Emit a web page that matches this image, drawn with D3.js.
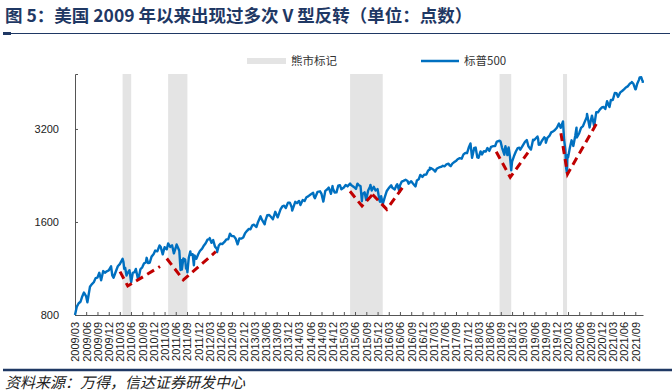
<!DOCTYPE html>
<html>
<head>
<meta charset="utf-8">
<script src="https://cdn.jsdelivr.net/npm/d3@7"></script>
<style>
  body { margin: 0; background: #fff; }
  svg { display: block; }
  .axis text { font-family: "Liberation Sans", Arial, sans-serif; fill: #222; }
  .axis path, .axis line { stroke: #555; }
</style>
</head>
<body>
<div id="chart"></div>
<script>
// S&P 500 closes (dates are trading days)
const spx = [
  ["2009-03-31", 798], ["2009-04-15", 852], ["2009-04-30", 873], ["2009-05-15", 883], ["2009-05-29", 919],
  ["2009-06-12", 946], ["2009-06-30", 919], ["2009-07-10", 880], ["2009-07-31", 987], ["2009-08-14", 1005],
  ["2009-08-31", 1021], ["2009-09-15", 1053], ["2009-09-30", 1057], ["2009-10-15", 1096], ["2009-10-30", 1036],
  ["2009-11-16", 1110], ["2009-11-30", 1096], ["2009-12-15", 1108], ["2009-12-31", 1115],
  ["2010-01-19", 1150], ["2010-01-29", 1074], ["2010-02-08", 1056], ["2010-02-26", 1104], ["2010-03-15", 1150],
  ["2010-03-31", 1169], ["2010-04-23", 1217], ["2010-04-30", 1187], ["2010-05-06", 1128], ["2010-05-14", 1136],
  ["2010-05-25", 1074], ["2010-05-31", 1089], ["2010-06-18", 1117], ["2010-06-30", 1031], ["2010-07-02", 1023],
  ["2010-07-15", 1096], ["2010-07-30", 1102], ["2010-08-09", 1128], ["2010-08-26", 1047], ["2010-08-31", 1049],
  ["2010-09-15", 1125], ["2010-09-30", 1141], ["2010-10-15", 1176], ["2010-10-29", 1183], ["2010-11-05", 1225],
  ["2010-11-16", 1178], ["2010-11-30", 1181], ["2010-12-15", 1236], ["2010-12-31", 1258],
  ["2011-01-14", 1293], ["2011-01-31", 1286], ["2011-02-18", 1343], ["2011-02-28", 1327], ["2011-03-16", 1257],
  ["2011-03-31", 1326], ["2011-04-18", 1305], ["2011-04-29", 1364], ["2011-05-16", 1329], ["2011-05-31", 1345],
  ["2011-06-15", 1266], ["2011-06-30", 1321], ["2011-07-07", 1353], ["2011-07-29", 1292], ["2011-08-08", 1119],
  ["2011-08-15", 1204], ["2011-08-19", 1123], ["2011-08-31", 1219], ["2011-09-15", 1209], ["2011-09-22", 1130],
  ["2011-09-30", 1131], ["2011-10-03", 1099], ["2011-10-14", 1225], ["2011-10-27", 1285], ["2011-10-31", 1253],
  ["2011-11-15", 1258], ["2011-11-25", 1159], ["2011-11-30", 1247], ["2011-12-15", 1216], ["2011-12-30", 1258],
  ["2012-01-13", 1289], ["2012-01-31", 1312], ["2012-02-15", 1343], ["2012-02-29", 1366], ["2012-03-15", 1403],
  ["2012-03-30", 1408], ["2012-04-02", 1419], ["2012-04-16", 1370], ["2012-04-30", 1398], ["2012-05-15", 1331],
  ["2012-05-31", 1310], ["2012-06-01", 1278], ["2012-06-15", 1343], ["2012-06-29", 1362], ["2012-07-13", 1357],
  ["2012-07-31", 1379], ["2012-08-15", 1405], ["2012-08-31", 1407], ["2012-09-14", 1466], ["2012-09-28", 1441],
  ["2012-10-15", 1440], ["2012-10-31", 1412], ["2012-11-15", 1355], ["2012-11-30", 1416], ["2012-12-14", 1413],
  ["2012-12-31", 1426],
  ["2013-01-15", 1472], ["2013-01-31", 1498], ["2013-02-15", 1520], ["2013-02-28", 1515], ["2013-03-15", 1561],
  ["2013-03-28", 1569], ["2013-04-18", 1541], ["2013-04-30", 1598], ["2013-05-21", 1669], ["2013-05-31", 1631],
  ["2013-06-24", 1573], ["2013-06-28", 1606], ["2013-07-15", 1683], ["2013-07-31", 1686], ["2013-08-15", 1661],
  ["2013-08-30", 1633], ["2013-09-18", 1726], ["2013-09-30", 1682], ["2013-10-08", 1656], ["2013-10-31", 1757],
  ["2013-11-15", 1798], ["2013-11-29", 1806], ["2013-12-13", 1775], ["2013-12-31", 1848],
  ["2014-01-15", 1848], ["2014-01-31", 1783], ["2014-02-03", 1742], ["2014-02-28", 1859], ["2014-03-14", 1841],
  ["2014-03-31", 1872], ["2014-04-11", 1816], ["2014-04-30", 1884], ["2014-05-15", 1870], ["2014-05-30", 1924],
  ["2014-06-13", 1937], ["2014-06-30", 1960], ["2014-07-24", 1988], ["2014-07-31", 1931], ["2014-08-07", 1910],
  ["2014-08-29", 2003], ["2014-09-18", 2011], ["2014-09-30", 1972], ["2014-10-15", 1862], ["2014-10-31", 2018],
  ["2014-11-14", 2039], ["2014-11-28", 2068], ["2014-12-16", 1973], ["2014-12-29", 2091], ["2014-12-31", 2059],
  ["2015-01-15", 1993], ["2015-01-30", 1995], ["2015-02-13", 2097], ["2015-02-27", 2105], ["2015-03-11", 2041],
  ["2015-03-31", 2068], ["2015-04-15", 2107], ["2015-04-30", 2086], ["2015-05-21", 2131], ["2015-05-29", 2107],
  ["2015-06-15", 2085], ["2015-06-30", 2063], ["2015-07-08", 2047], ["2015-07-20", 2129], ["2015-07-31", 2104],
  ["2015-08-14", 2092], ["2015-08-25", 1868], ["2015-08-31", 1972], ["2015-09-16", 1996], ["2015-09-29", 1884],
  ["2015-10-15", 2023], ["2015-10-30", 2079], ["2015-11-03", 2109], ["2015-11-13", 2023], ["2015-11-30", 2080],
  ["2015-12-14", 2022], ["2015-12-31", 2044],
  ["2016-01-15", 1880], ["2016-01-20", 1859], ["2016-01-29", 1940], ["2016-02-11", 1829], ["2016-02-29", 1932],
  ["2016-03-15", 2016], ["2016-03-31", 2060], ["2016-04-20", 2102], ["2016-04-29", 2065], ["2016-05-19", 2040],
  ["2016-05-31", 2097], ["2016-06-08", 2119], ["2016-06-27", 2001], ["2016-06-30", 2099], ["2016-07-15", 2162],
  ["2016-07-29", 2174], ["2016-08-15", 2191], ["2016-08-31", 2171], ["2016-09-09", 2128], ["2016-09-30", 2168],
  ["2016-10-14", 2133], ["2016-11-04", 2085], ["2016-11-15", 2180], ["2016-11-30", 2199], ["2016-12-13", 2272],
  ["2016-12-30", 2239],
  ["2017-01-13", 2275], ["2017-01-31", 2279], ["2017-02-15", 2349], ["2017-02-28", 2364], ["2017-03-01", 2396],
  ["2017-03-15", 2385], ["2017-03-31", 2363], ["2017-04-13", 2329], ["2017-04-28", 2384], ["2017-05-15", 2402],
  ["2017-05-31", 2412], ["2017-06-15", 2432], ["2017-06-30", 2423], ["2017-07-14", 2459], ["2017-07-31", 2470],
  ["2017-08-10", 2438], ["2017-08-18", 2426], ["2017-08-31", 2472], ["2017-09-15", 2500], ["2017-09-29", 2519],
  ["2017-10-13", 2553], ["2017-10-31", 2575], ["2017-11-15", 2564], ["2017-11-30", 2648], ["2017-12-15", 2676],
  ["2017-12-29", 2674],
  ["2018-01-12", 2786], ["2018-01-26", 2873], ["2018-02-08", 2581], ["2018-02-26", 2780], ["2018-03-09", 2786],
  ["2018-03-23", 2588], ["2018-04-02", 2582], ["2018-04-18", 2708], ["2018-04-30", 2648], ["2018-05-15", 2711],
  ["2018-05-31", 2705], ["2018-06-13", 2776], ["2018-06-29", 2718], ["2018-07-13", 2801], ["2018-07-31", 2816],
  ["2018-08-15", 2818], ["2018-08-29", 2914], ["2018-09-20", 2931], ["2018-09-28", 2914], ["2018-10-10", 2786],
  ["2018-10-29", 2641], ["2018-10-31", 2712], ["2018-11-07", 2814], ["2018-11-23", 2633], ["2018-11-30", 2760],
  ["2018-12-03", 2790], ["2018-12-14", 2600], ["2018-12-24", 2351], ["2018-12-31", 2507],
  ["2019-01-15", 2610], ["2019-01-31", 2704], ["2019-02-15", 2776], ["2019-02-28", 2784], ["2019-03-08", 2743],
  ["2019-03-29", 2834], ["2019-04-15", 2905], ["2019-04-30", 2946], ["2019-05-13", 2812], ["2019-05-31", 2752],
  ["2019-06-03", 2744], ["2019-06-20", 2954], ["2019-06-28", 2942], ["2019-07-26", 3026], ["2019-07-31", 2980],
  ["2019-08-05", 2845], ["2019-08-15", 2848], ["2019-08-30", 2926], ["2019-09-19", 3006], ["2019-09-30", 2977],
  ["2019-10-02", 2887], ["2019-10-15", 2996], ["2019-10-31", 3038], ["2019-11-15", 3120], ["2019-11-29", 3141],
  ["2019-12-13", 3169], ["2019-12-31", 3231],
  ["2020-01-17", 3330], ["2020-01-31", 3226], ["2020-02-19", 3386], ["2020-02-28", 2954], ["2020-03-09", 2747],
  ["2020-03-16", 2386], ["2020-03-23", 2300], ["2020-03-26", 2630], ["2020-03-31", 2585], ["2020-04-15", 2783],
  ["2020-04-29", 2940], ["2020-05-13", 2820], ["2020-05-29", 3044], ["2020-06-08", 3232], ["2020-06-11", 3002],
  ["2020-06-30", 3100], ["2020-07-15", 3227], ["2020-07-31", 3271], ["2020-08-14", 3373], ["2020-08-31", 3500],
  ["2020-09-02", 3581], ["2020-09-23", 3237], ["2020-09-30", 3363], ["2020-10-12", 3535], ["2020-10-30", 3270],
  ["2020-11-16", 3627], ["2020-11-30", 3622], ["2020-12-15", 3695], ["2020-12-31", 3756],
  ["2021-01-15", 3768], ["2021-01-29", 3714], ["2021-02-12", 3934], ["2021-02-26", 3811], ["2021-03-04", 3768],
  ["2021-03-15", 3969], ["2021-03-31", 3973], ["2021-04-16", 4185], ["2021-04-30", 4181], ["2021-05-12", 4063],
  ["2021-05-31", 4204], ["2021-06-15", 4247], ["2021-06-30", 4298], ["2021-07-15", 4360], ["2021-07-30", 4395],
  ["2021-08-16", 4479], ["2021-08-31", 4523], ["2021-09-02", 4537], ["2021-09-15", 4481], ["2021-09-30", 4308],
  ["2021-10-04", 4300], ["2021-10-15", 4471], ["2021-10-29", 4605], ["2021-11-05", 4697], ["2021-11-18", 4704],
  ["2021-11-26", 4595], ["2021-11-30", 4567], ["2021-12-01", 4513]
];

// bear market shading (start, end)
const bearPeriods = [
  ["2010-04-23", "2010-07-02"],
  ["2011-04-29", "2011-10-03"],
  ["2015-05-21", "2016-02-11"],
  ["2018-09-20", "2018-12-24"],
  ["2020-02-19", "2020-03-23"]
];

// red dashed V annotations, each a list of [date, level]
const vMarks = [
  [["2010-04-02", 1105], ["2010-06-04", 993], ["2011-02-22", 1148]],
  [["2011-04-18", 1219], ["2011-08-31", 1039], ["2012-05-21", 1282]],
  [["2015-05-20", 2012], ["2015-08-26", 1802], ["2015-11-20", 1964]],
  [["2015-11-20", 1964], ["2016-03-15", 1758], ["2016-07-28", 2084]],
  [["2018-08-24", 2702], ["2018-12-16", 2233], ["2019-05-09", 2682]],
  [["2020-02-02", 3100], ["2020-03-27", 2288], ["2020-11-16", 3321]]
];

const yTicks = [800, 1600, 3200];
const yTop = 4820;
const xStart = "2009-03-31", xEnd = "2021-12-02";
const firstLabel = "2009-03", labelCount = 51;

const title = "图 5：美国 2009 年以来出现过多次 V 型反转（单位：点数）";
const source = "资料来源：万得，信达证券研发中心";
const legendItems = ["熊市标记", "标普500"];

const W = 672, H = 392;
const plot = {left: 75, right: 643, top: 74, bottom: 315};
const parse = d3.timeParse("%Y-%m-%d");
const navy = "#1F3864", blue = "#0070C0", red = "#C00000", band = "#E4E4E4";

const svg = d3.select("#chart").append("svg")
  .attr("width", W).attr("height", H);

svg.append("rect").attr("width", W).attr("height", H).attr("fill", "#fff");

// title + rules
svg.append("text")
  .attr("x", 5).attr("y", 22)
  .attr("font-family", "'Noto Sans CJK SC', sans-serif")
  .attr("font-weight", "bold").attr("font-size", 17.5)
  .attr("fill", navy)
  .text(title);
svg.append("line").attr("x1", 3).attr("x2", 670).attr("y1", 33.5).attr("y2", 33.5)
  .attr("stroke", navy).attr("stroke-width", 1.2);
svg.append("rect").attr("x", 3).attr("y", 32).attr("width", 8).attr("height", 3).attr("fill", navy);
svg.append("line").attr("x1", 3).attr("x2", 672).attr("y1", 370).attr("y2", 370)
  .attr("stroke", navy).attr("stroke-width", 2.5);
svg.append("text")
  .attr("x", 5).attr("y", 388)
  .attr("font-family", "'Noto Sans CJK SC', sans-serif")
  .attr("font-style", "italic").attr("font-size", 15)
  .attr("fill", "#222")
  .text(source);

// scales
const x = d3.scaleTime()
  .domain([parse(xStart), parse(xEnd)])
  .range([plot.left, plot.right]);
const y = d3.scaleLog().base(2)
  .domain([yTicks[0], yTop])
  .range([plot.bottom, plot.top])
  .clamp(true);

// bear bands
svg.append("g").selectAll("rect")
  .data(bearPeriods)
  .join("rect")
    .attr("x", d => x(parse(d[0])))
    .attr("width", d => Math.max(3, x(parse(d[1])) - x(parse(d[0]))))
    .attr("y", plot.top)
    .attr("height", plot.bottom - plot.top)
    .attr("fill", band);

// axes: quarterly ticks placed at month end
const q0 = parse(firstLabel + "-01");
const quarterTicks = d3.range(labelCount)
  .map(i => d3.timeDay.offset(d3.timeMonth.offset(q0, 3 * i + 1), -1));
const fmt = d3.timeFormat("%Y/%m");

const xAxis = svg.append("g")
  .attr("class", "axis")
  .attr("transform", `translate(0,${plot.bottom})`)
  .call(d3.axisBottom(x).tickValues(quarterTicks).tickFormat(fmt).tickSize(-3).tickSizeOuter(0));
xAxis.select(".domain").attr("stroke", "#222");
xAxis.selectAll(".tick line").attr("stroke", "#222");
xAxis.selectAll("text")
  .attr("font-size", 11)
  .attr("transform", "rotate(-90)")
  .attr("text-anchor", "end")
  .attr("x", -7).attr("y", 0).attr("dy", "0.35em");

const yAxis = svg.append("g")
  .attr("class", "axis")
  .attr("transform", `translate(${plot.left},0)`)
  .call(d3.axisLeft(y).tickValues(yTicks).tickFormat(d3.format("d")).tickSize(-3).tickSizeOuter(-3));
yAxis.selectAll("text").attr("font-size", 11).attr("x", -16);
yAxis.select(".domain").attr("stroke", "#444");

// S&P line
const line = d3.line()
  .x(d => x(parse(d[0])))
  .y(d => y(d[1]));
svg.append("path")
  .datum(spx)
  .attr("fill", "none")
  .attr("stroke", blue)
  .attr("stroke-width", 2.4)
  .attr("stroke-linejoin", "round")
  .attr("d", line);

// V annotations
svg.append("g").selectAll("path")
  .data(vMarks)
  .join("path")
    .attr("fill", "none")
    .attr("stroke", red)
    .attr("stroke-width", 3)
    .attr("stroke-dasharray", "8,5")
    .attr("d", line);

// legend
const legend = svg.append("g")
  .attr("font-family", "'Noto Sans CJK SC', sans-serif")
  .attr("font-size", 11.5).attr("fill", "#333");
legend.append("rect").attr("x", 247).attr("y", 58).attr("width", 39).attr("height", 6).attr("fill", band);
legend.append("text").attr("x", 291).attr("y", 65).text(legendItems[0]);
legend.append("line").attr("x1", 421).attr("x2", 459).attr("y1", 61).attr("y2", 61)
  .attr("stroke", blue).attr("stroke-width", 2.4);
legend.append("text").attr("x", 464).attr("y", 65).text(legendItems[1]);
</script>
</body>
</html>
